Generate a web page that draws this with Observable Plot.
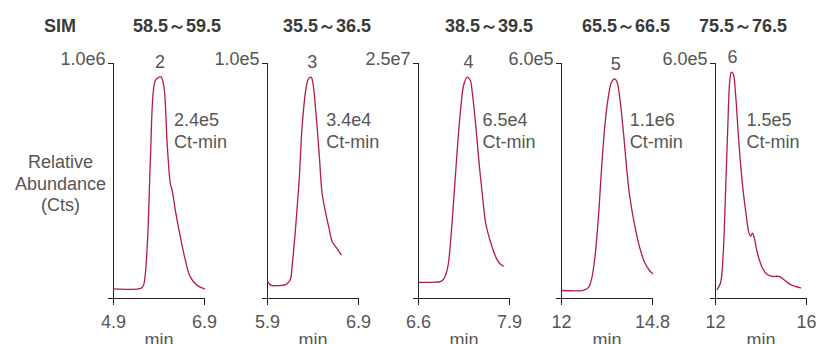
<!DOCTYPE html>
<html>
<head>
<meta charset="utf-8">
<script src="https://cdn.jsdelivr.net/npm/d3@7"></script>
<script src="https://cdn.jsdelivr.net/npm/@observablehq/plot@0.6"></script>
<style>
  html, body { margin: 0; padding: 0; background: #fff; overflow: hidden; }
  #chart { position: relative; width: 816px; height: 344px; font-family: "Liberation Sans", Arial, sans-serif; }
  .title { position: absolute; top: 17px; font-size: 18px; line-height: 18px; font-weight: bold; color: #3a3a3a; transform: translateX(-50%); white-space: nowrap; }
  .panel { position: absolute; top: 0; }
</style>
</head>
<body>
<div id="chart"></div>
<script>
// ---- data ----
const modeLabel = "SIM";
const titles = ["58.5～59.5", "35.5～36.5", "38.5～39.5", "65.5～66.5", "75.5～76.5"];
const peakLabels = ["2", "3", "4", "5", "6"];
const areaLabels = ["2.4e5", "3.4e4", "6.5e4", "1.1e6", "1.5e5"];
const areaUnit = "Ct-min";
const yTops = [1.0e6, 1.0e5, 2.5e7, 6.0e5, 6.0e5];
const yTopLabels = ["1.0e6", "1.0e5", "2.5e7", "6.0e5", "6.0e5"];
const xDomains = [[4.9, 6.9], [5.9, 6.9], [6.6, 7.9], [12, 14.8], [12, 16]];
const xTickLabels = [["4.9", "6.9"], ["5.9", "6.9"], ["6.6", "7.9"], ["12", "14.8"], ["12", "16"]];
const xAxisLabel = "min";
const yAxisLabel = "Relative\nAbundance\n(Cts)";

// retention times (min) and intensities (counts)
const time2 = [4.90, 5.45, 5.53, 5.57, 5.64, 5.71, 5.77, 5.82, 5.90, 5.95, 6.01, 6.08, 6.15, 6.19, 6.26, 6.37, 6.48, 6.59, 6.74, 6.90];
const counts2 = [41000, 41000, 47000, 63000, 218000, 587000, 871000, 928000, 942000, 942000, 899000, 658000, 488000, 460000, 374000, 261000, 162000, 91000, 55000, 41000];

const time3 = [5.90, 5.94, 6.01, 6.10, 6.15, 6.17, 6.21, 6.25, 6.28, 6.32, 6.35, 6.38, 6.40, 6.43, 6.47, 6.50, 6.54, 6.58, 6.61, 6.66, 6.71];
const counts3 = [7300, 5600, 5500, 5900, 8000, 13700, 30700, 51800, 73000, 88600, 93500, 94200, 91400, 80100, 60300, 44800, 36300, 29200, 24300, 21500, 18600];

const time4 = [6.61, 6.80, 6.92, 6.97, 7.02, 7.06, 7.11, 7.16, 7.21, 7.25, 7.30, 7.34, 7.37, 7.42, 7.47, 7.52, 7.56, 7.64, 7.71, 7.76, 7.81];
const counts4 = [1725000, 1725000, 1825000, 2200000, 3425000, 6250000, 11200000, 16500000, 20725000, 22850000, 23550000, 23200000, 21800000, 18250000, 14025000, 10500000, 8025000, 5750000, 4325000, 3725000, 3450000];

const time5 = [12.00, 12.67, 12.82, 12.92, 13.02, 13.13, 13.23, 13.33, 13.44, 13.54, 13.64, 13.71, 13.79, 13.90, 14.00, 14.10, 14.26, 14.41, 14.56, 14.72, 14.80];
const counts5 = [20400, 21000, 27000, 48000, 99000, 201000, 328200, 438000, 514200, 552600, 561000, 552600, 514200, 429600, 336600, 260400, 183600, 129000, 91200, 70200, 63600];

const time6 = [12.07, 12.22, 12.34, 12.44, 12.54, 12.63, 12.70, 12.78, 12.88, 13.03, 13.18, 13.32, 13.47, 13.54, 13.62, 13.69, 13.84, 14.06, 14.28, 14.50, 14.79, 15.01, 15.30, 15.74];
const counts6 = [22800, 39600, 116400, 268800, 438000, 556800, 577800, 573600, 523200, 396000, 294000, 226200, 166800, 158400, 166800, 158400, 116400, 78000, 61200, 56400, 56400, 48000, 35400, 27000];

const times = [time2, time3, time4, time5, time6];
const counts = [counts2, counts3, counts4, counts5, counts6];

// ---- layout ----
const axisLeft = [113, 267, 418, 561, 715];
const titleCenters = [177, 327, 489, 626, 743];
const plotW = 91;
const traceColor = "#b01f3f";
const font = "Liberation Sans, Arial, sans-serif";

const chart = document.getElementById("chart");

function addTitle(text, cx) {
  const d = document.createElement("div");
  d.className = "title";
  d.style.left = cx + "px";
  d.textContent = text;
  chart.appendChild(d);
}
addTitle(modeLabel, 60);
titles.forEach((t, i) => addTitle(t, titleCenters[i]));

times.forEach((ts, i) => {
  const data = ts.map((t, j) => ({t, v: counts[i][j]}));
  const peak = d3.greatest(data, d => d.v);
  const ml = i === 0 ? 113 : 70;
  const mr = 12;
  const marks = [
    Plot.ruleX([xDomains[i][0]], {stroke: "#222", strokeWidth: 1}),
    Plot.ruleY([0], {stroke: "#222", strokeWidth: 1}),
    // y ticks
    Plot.axisY({ticks: [0, yTops[i]], tickSize: 5, tickFormat: () => "", label: null, stroke: "#222"}),
    // y tick labels
    Plot.axisY({ticks: [yTops[i]], tickSize: 5, tickPadding: 3, tickFormat: () => yTopLabels[i], label: null,
      fontSize: 18, color: "#555", dy: -4, stroke: "none"}),
    // x axis
    Plot.axisX({ticks: xDomains[i], tickSize: 7, tickPadding: 10, tickFormat: (d, k) => xTickLabels[i][k],
      fontSize: 18, color: "#555", stroke: "#222",
      label: xAxisLabel, labelAnchor: "center", labelArrow: "none", labelOffset: 47}),
    Plot.line(data, {x: "t", y: "v", stroke: traceColor, strokeWidth: 1.3, curve: "catmull-rom"}),
    Plot.text([peak], {x: "t", y: "v", text: () => peakLabels[i], dy: -15, dx: 1, fontSize: 18, fill: "#555"}),
    Plot.text([peak], {x: "t", text: () => areaLabels[i] + "\n" + areaUnit, frameAnchor: "top", dx: 15, dy: 47,
      textAnchor: "start", lineAnchor: "top", lineHeight: 1.22, fontSize: 18, fill: "#555"})
  ];
  if (i === 0) {
    marks.push(Plot.text([yAxisLabel], {text: d => d, frameAnchor: "left", dx: -53, dy: 1.5,
      textAnchor: "middle", lineHeight: 1.22, fontSize: 18, fill: "#555"}));
  }
  const svg = Plot.plot({
    width: ml + plotW + mr,
    height: 344,
    marginLeft: ml,
    marginRight: mr,
    marginTop: 63,
    marginBottom: 46,
    style: {background: "transparent", overflow: "visible", fontFamily: font, color: "#222", maxWidth: "none"},
    x: {domain: xDomains[i]},
    y: {domain: [0, yTops[i]]},
    marks
  });
  svg.classList.add("panel");
  svg.style.position = "absolute";
  svg.style.left = (axisLeft[i] - ml) + "px";
  svg.style.top = "0px";
  chart.appendChild(svg);
});
</script>
</body>
</html>
